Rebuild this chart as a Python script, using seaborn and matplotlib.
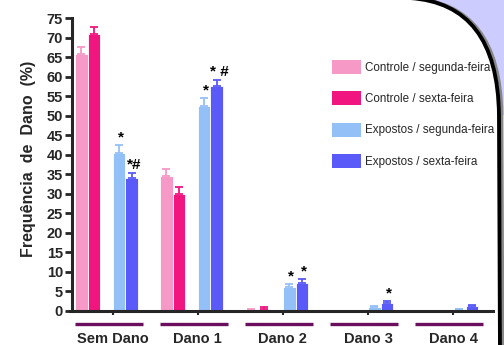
import numpy as np
import pandas as pd
import matplotlib
matplotlib.use("Agg")
import matplotlib.pyplot as plt
from matplotlib.path import Path
from matplotlib.patches import PathPatch, Patch
from matplotlib.container import BarContainer
import seaborn as sns

# data
groups = ["Sem Dano", "Dano 1", "Dano 2", "Dano 3", "Dano 4"]
series = ["Controle / segunda-feira", "Controle / sexta-feira",
          "Expostos / segunda-feira", "Expostos / sexta-feira"]
ctrl_seg = [65.9, 34.6, 0.3, 0.1, 0.1]
ctrl_sex = [70.8, 30.0, 0.6, 0.1, 0.1]
exp_seg = [40.5, 52.6, 6.2, 1.0, 0.4]
exp_sex = [34.1, 57.5, 7.2, 2.1, 1.3]
ctrl_seg_err = [1.7, 1.8, 0.1, 0.0, 0.0]
ctrl_sex_err = [1.8, 1.8, 0.3, 0.0, 0.0]
exp_seg_err = [2.0, 1.8, 0.7, 0.2, 0.1]
exp_sex_err = [1.3, 1.7, 1.0, 0.4, 0.3]
# significance marks above each bar
ctrl_seg_mark = ["", "", "", "", ""]
ctrl_sex_mark = ["", "", "", "", ""]
exp_seg_mark = ["*", "*", "*", "", ""]
exp_sex_mark = ["*#", "* #", "*", "*", ""]
yticks = list(range(0, 80, 5))

colors = ["#F799C6", "#F0157F", "#94C0F8", "#5A5AF8"]

values = [ctrl_seg, ctrl_sex, exp_seg, exp_sex]
errors = [ctrl_seg_err, ctrl_sex_err, exp_seg_err, exp_sex_err]
marks = [ctrl_seg_mark, ctrl_sex_mark, exp_seg_mark, exp_sex_mark]

df = pd.DataFrame({
    "grupo": groups * 4,
    "serie": np.repeat(series, len(groups)),
    "valor": np.concatenate(values),
})

# empty hue levels leave the gap between the pairs
hue_order = [series[0], series[1], "gap1", series[2], series[3], "gap2"]
palette = dict(zip(hue_order, [colors[0], colors[1], "white", colors[2], colors[3], "white"]))

sns.set_style("ticks")
plt.rcParams["font.family"] = ["Liberation Sans", "DejaVu Sans"]

fig = plt.figure(figsize=(5.04, 3.45), dpi=100)
ax = fig.add_axes([72 / 504, 1 - 311 / 345, 421 / 504, 293 / 345])

sns.barplot(data=df, x="grupo", y="valor", hue="serie", order=groups,
            hue_order=hue_order, palette=palette, width=0.89, saturation=1,
            edgecolor="white", linewidth=0.6, legend=False, ax=ax)

bar_conts = [c for c in ax.containers if isinstance(c, BarContainer) and len(c) > 0]
for k, cont in enumerate(bar_conts):
    xs = [p.get_x() + p.get_width() / 2 for p in cont.patches]
    hs = [p.get_height() for p in cont.patches]
    ax.errorbar(xs, hs, yerr=[np.zeros(len(hs)), errors[k]], fmt="none",
                ecolor=colors[k], elinewidth=1.3, capsize=3, capthick=1.3,
                zorder=1)
    for x, h, e, m in zip(xs, hs, errors[k], marks[k]):
        if m:
            ax.annotate(m, (x, h + e), xytext=(1.5, 0.5), textcoords="offset points",
                        ha="center", va="bottom", fontsize=11, fontweight="bold",
                        color="black")

ax.set_xlim(-0.48, 4.47)
ax.set_ylim(0, 75)
ax.set_yticks(yticks)
ax.set_yticklabels([str(t) for t in yticks], fontsize=10.5, fontweight="bold")
ax.set_xticks(range(len(groups)))
ax.set_xticklabels(groups, fontsize=10.5, fontweight="bold")
ax.tick_params(axis="y", length=5, width=2, pad=1.5)
ax.tick_params(axis="x", length=3, width=1.5, pad=12)
ax.set_xlabel("")
ax.set_ylabel("Frequência  de  Dano  (%)", fontsize=11.5, fontweight="bold")
ax.yaxis.set_label_coords(-0.085, 0.52)
sns.despine(ax=ax)
for s in ["left", "bottom"]:
    ax.spines[s].set_linewidth(2.2)
ax.spines["bottom"].set_bounds(-0.5, 4.47)

# purple lines under each group
for i in range(len(groups)):
    ax.plot([i - 0.45, i + 0.35], [-0.045, -0.045], color="#6B0E5E", lw=2.4,
            transform=ax.get_xaxis_transform(), clip_on=False, solid_capstyle="butt")

handles = [Patch(facecolor=c, edgecolor="none") for c in colors]
fig.legend(handles, series, loc="upper left",
           bbox_to_anchor=(332 / 504, 1 - 60 / 345), frameon=False,
           fontsize=8.4, handlelength=2.45, handleheight=1.45, labelspacing=1.5,
           handletextpad=0.4, borderpad=0, borderaxespad=0)


def fpt(x, y):
    return (x / 504, 1 - y / 345)


# slide decoration top right
curve = [fpt(410, -2), fpt(468, 2), fpt(498, 40), fpt(499, 115)]
fill_verts = curve + [fpt(506, 115), fpt(506, -2), fpt(410, -2)]
fill_codes = [Path.MOVETO, Path.CURVE4, Path.CURVE4, Path.CURVE4,
              Path.LINETO, Path.LINETO, Path.CLOSEPOLY]
fig.add_artist(PathPatch(Path(fill_verts, fill_codes), facecolor="#CCCCFF",
                         edgecolor="none", transform=fig.transFigure))
line_verts = curve + [fpt(500, 350)]
line_codes = [Path.MOVETO, Path.CURVE4, Path.CURVE4, Path.CURVE4, Path.LINETO]
shadow = [(x + 3 / 504, y) for x, y in line_verts]
fig.add_artist(PathPatch(Path(shadow, line_codes), facecolor="none",
                         edgecolor="#888888", lw=2, transform=fig.transFigure))
fig.add_artist(PathPatch(Path(line_verts, line_codes), facecolor="none",
                         edgecolor="black", lw=2.8, transform=fig.transFigure))

fig.savefig("out.png", dpi=100)
